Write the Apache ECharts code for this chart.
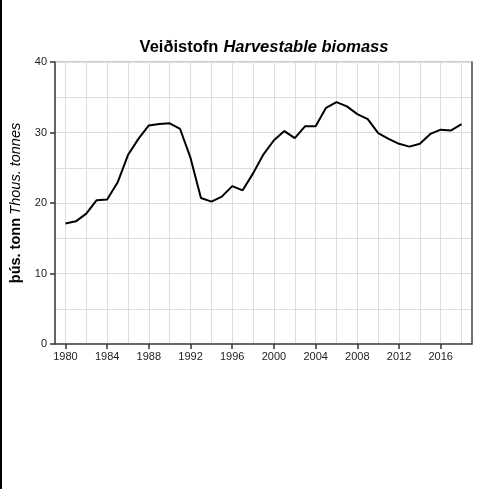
<!DOCTYPE html>
<html style="height: 100%">
   <head>
       <meta charset="utf-8">
   </head>
   <body style="height: 100%; margin: 0">
       <div id="container" style="width: 485px; height: 489px"></div>
       <script type="text/javascript" src="https://cdn.jsdelivr.net/npm/echarts@6/dist/echarts.min.js"></script>
       <script type="text/javascript">
// axis runs one year past the data on each side
var years = [];
for (var y = 1979; y <= 2019; y++) years.push(String(y));

var dataYears = ['1980','1981','1982','1983','1984','1985','1986','1987','1988','1989',
                 '1990','1991','1992','1993','1994','1995','1996','1997','1998','1999',
                 '2000','2001','2002','2003','2004','2005','2006','2007','2008','2009',
                 '2010','2011','2012','2013','2014','2015','2016','2017','2018'];
var biomass = [17.1, 17.4, 18.5, 20.4, 20.5, 22.9, 26.8, 29.1, 31.0, 31.2,
               31.3, 30.5, 26.4, 20.7, 20.2, 20.9, 22.4, 21.8, 24.2, 26.9,
               28.9, 30.2, 29.2, 30.9, 30.9, 33.5, 34.3, 33.7, 32.6, 31.9,
               29.9, 29.1, 28.4, 28.0, 28.4, 29.8, 30.4, 30.3, 31.2];

var seriesData = dataYears.map(function (yr, i) { return [yr, biomass[i]]; });

var dom = document.getElementById("container");
var myChart = echarts.init(dom);
var font = 'Liberation Sans, Arial, sans-serif';

option = {
    backgroundColor: 'white',
    animation: false,
    textStyle: {fontFamily: font},
    title: {
        text: '{b|Veiðistofn} {i|Harvestable biomass}',
        left: 259,
        textAlign: 'center',
        top: 33,
        textStyle: {
            rich: {
                b: {fontFamily: font, fontSize: 16.5, fontWeight: 'bold', color: '#000'},
                i: {fontFamily: font, fontSize: 16.5, fontStyle: 'italic', color: '#000'}
            }
        }
    },
    graphic: [{
        type: 'rect',
        shape: {x: 0, y: 0, width: 2, height: 489},
        style: {fill: '#000'}
    }],
    grid: {
        left: 54, right: 13, top: 62, bottom: 145,
        show: true,
        borderColor: '#999',
        borderWidth: 1
    },
    xAxis: {
        type: 'category',
        data: years,
        boundaryGap: false,
        axisLine: {lineStyle: {color: '#444', width: 1.5}},
        axisTick: {
            alignWithLabel: true,
            interval: function (i, v) { return Number(v) % 4 === 0; },
            length: 5,
            lineStyle: {color: '#333', width: 1.5}
        },
        axisLabel: {
            interval: function (i, v) { return Number(v) % 4 === 0; },
            color: '#222', fontSize: 11, margin: 7
        },
        splitLine: {
            show: true,
            interval: function (i, v) { return Number(v) % 2 === 0; },
            lineStyle: {color: '#ddd', width: 1}
        }
    },
    yAxis: [{
        type: 'value',
        min: 0, max: 40, interval: 10,
        name: '{b|þús. tonn} {i|Thous. tonnes}',
        nameLocation: 'middle',
        nameRotate: 90,
        nameGap: 32,
        nameTextStyle: {
            rich: {
                b: {fontFamily: font, fontSize: 14.5, fontWeight: 'bold', color: '#000'},
                i: {fontFamily: font, fontSize: 14.5, fontStyle: 'italic', color: '#000'}
            }
        },
        axisLine: {show: true, lineStyle: {color: '#444', width: 1.5}},
        axisTick: {show: true, length: 5, lineStyle: {color: '#333', width: 1.5}},
        axisLabel: {color: '#222', fontSize: 11, margin: 8},
        splitLine: {lineStyle: {color: '#ddd', width: 1}},
        minorTick: {show: false, splitNumber: 2},
        minorSplitLine: {show: true, lineStyle: {color: '#ddd', width: 1}}
    }, {
        type: 'value',
        position: 'right',
        min: 0, max: 40,
        axisLine: {show: true, lineStyle: {color: '#555', width: 1.5}},
        axisTick: {show: false},
        axisLabel: {show: false},
        splitLine: {show: false}
    }],
    series: [{
        type: 'line',
        data: seriesData,
        symbol: 'none',
        lineStyle: {color: '#000', width: 2},
        z: 5
    }]
};
myChart.setOption(option, true);
       </script>
   </body>
</html>
